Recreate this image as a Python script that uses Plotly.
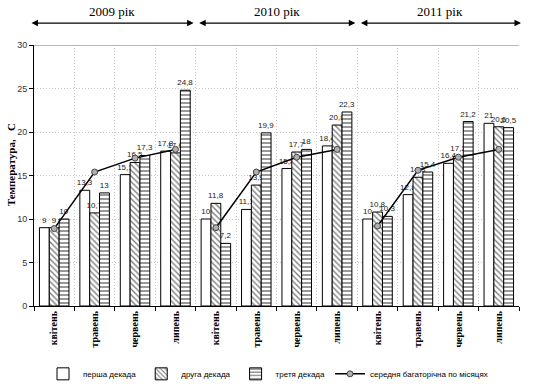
import plotly.graph_objects as go

months = ["квітень", "травень", "червень", "липень"]
years = ["2009 рік", "2010 рік", "2011 рік"]

first_decade = [9, 13.3, 15.1, 17.8, 10, 11.1, 15.8, 18.4, 10, 12.8, 16.4, 21]
second_decade = [9, 10.7, 16.5, 17.6, 11.8, 13.9, 17.7, 20.8, 10.8, 14.8, 17.2, 20.6]
third_decade = [10, 13, 17.3, 24.8, 7.2, 19.9, 18, 22.3, 10.3, 15.4, 21.2, 20.5]
mean_monthly = [8.9, 15.4, 17.0, 18.0, 9.0, 15.4, 17.1, 18.0, 9.2, 15.6, 17.1, 18.0]

n = len(first_decade)
xs = list(range(n))
ticktext = ["<b>%s</b>" % m for m in months * len(years)]


def fmt(v):
    s = ("%g" % v)
    return s.replace(".", ",")


fig = go.Figure()

bar_common = dict(textposition="outside", cliponaxis=False, constraintext="none",
                  textfont=dict(family="Arial", size=8, color="#222"))

fig.add_trace(go.Bar(
    x=xs, y=first_decade, name="перша декада",
    text=[fmt(v) for v in first_decade],
    marker=dict(color="white", line=dict(color="black", width=1)),
    **bar_common))
fig.add_trace(go.Bar(
    x=xs, y=second_decade, name="друга декада",
    text=[fmt(v) for v in second_decade],
    marker=dict(color="white", line=dict(color="black", width=1),
                pattern=dict(shape="\\", fgcolor="black", bgcolor="white",
                             size=4, solidity=0.35)),
    **bar_common))
fig.add_trace(go.Bar(
    x=xs, y=third_decade, name="третя декада",
    text=[fmt(v) for v in third_decade],
    marker=dict(color="white", line=dict(color="black", width=1),
                pattern=dict(shape="-", fgcolor="black", bgcolor="white",
                             size=4, solidity=0.4)),
    **bar_common))

# line with breaks between years
lx, ly = [], []
per_year = len(months)
for yi in range(len(years)):
    for mi in range(per_year):
        i = yi * per_year + mi
        lx.append(xs[i])
        ly.append(mean_monthly[i])
    if yi < len(years) - 1:
        lx.append(xs[(yi + 1) * per_year] - 0.5)
        ly.append(None)

fig.add_trace(go.Scatter(
    x=lx, y=ly, name="середня багаторічна по місяцях",
    mode="lines+markers", connectgaps=False,
    line=dict(color="black", width=1.5),
    marker=dict(symbol="circle", size=6, color="#b0b0b0",
                line=dict(color="#444", width=1))))

# year headers with double arrows
annotations = []
for yi, yname in enumerate(years):
    x0 = xs[yi * per_year] - 0.6 if yi == 0 else xs[yi * per_year] - 0.45
    x1 = xs[(yi + 1) * per_year - 1] + 0.45 if yi < len(years) - 1 else xs[-1] + 0.55
    annotations.append(dict(
        x=x1, y=1.084, xref="x", yref="paper", ax=x0, ay=0, axref="x", ayref="pixel",
        text="", showarrow=True, arrowhead=2, arrowside="end+start",
        arrowsize=1, arrowwidth=1.3, arrowcolor="black"))
    annotations.append(dict(
        x=(x0 + x1) / 2, y=1.13, xref="x", yref="paper", text=yname,
        xanchor="center", yanchor="middle",
        showarrow=False, font=dict(family="Liberation Serif", size=13, color="black")))

annotations.append(dict(
    x=-0.047, y=0.54, xref="paper", yref="paper", text="<b>Температура,   С</b>",
    xanchor="center", yanchor="middle",
    textangle=-90, showarrow=False,
    font=dict(family="Liberation Serif", size=11, color="black")))

fig.update_layout(
    width=536, height=387,
    margin=dict(l=34, r=17, t=45, b=81),
    paper_bgcolor="white", plot_bgcolor="white",
    barmode="group", bargap=0.27, bargroupgap=0,
    font=dict(family="Arial", size=9, color="#222"),
    showlegend=True,
    legend=dict(orientation="h", x=0.5, xref="container", xanchor="center",
                y=0.034, yref="container", yanchor="middle",
                font=dict(family="Arial", size=8, color="black"),
                itemwidth=30, tracegroupgap=0),
    annotations=annotations,
    xaxis=dict(
        range=[-0.5, n - 0.5], tickmode="array", tickvals=xs, ticktext=ticktext,
        tickangle=-90, ticks="", showgrid=False, zeroline=False, automargin=False,
        showline=True, linecolor="black", linewidth=1,
        tickfont=dict(family="Liberation Serif", size=10, color="black"),
        minor=dict(tickmode="linear", tick0=0.5, dtick=1, ticks="outside", ticklen=4,
                   tickcolor="black", showgrid=True, gridcolor="#c8c8c8",
                   griddash="1px,2px", gridwidth=1),
    ),
    yaxis=dict(
        range=[0, 30], tickmode="linear", tick0=0, dtick=5, automargin=False,
        ticks="outside", ticklen=4, tickcolor="black",
        showline=True, linecolor="black", linewidth=1,
        showgrid=True, gridcolor="#c8c8c8", griddash="1px,2px", gridwidth=1,
        zeroline=False,
        tickfont=dict(family="Arial", size=9, color="#333"),
    ),
    shapes=[dict(type="line", xref="paper", yref="y", x0=0, x1=1, y0=30, y1=30,
                 line=dict(color="#a0a0a0", width=1.5))],
)

fig.write_html("out.html", config={"displayModeBar": False},
               post_script="document.body.style.margin='0';")
